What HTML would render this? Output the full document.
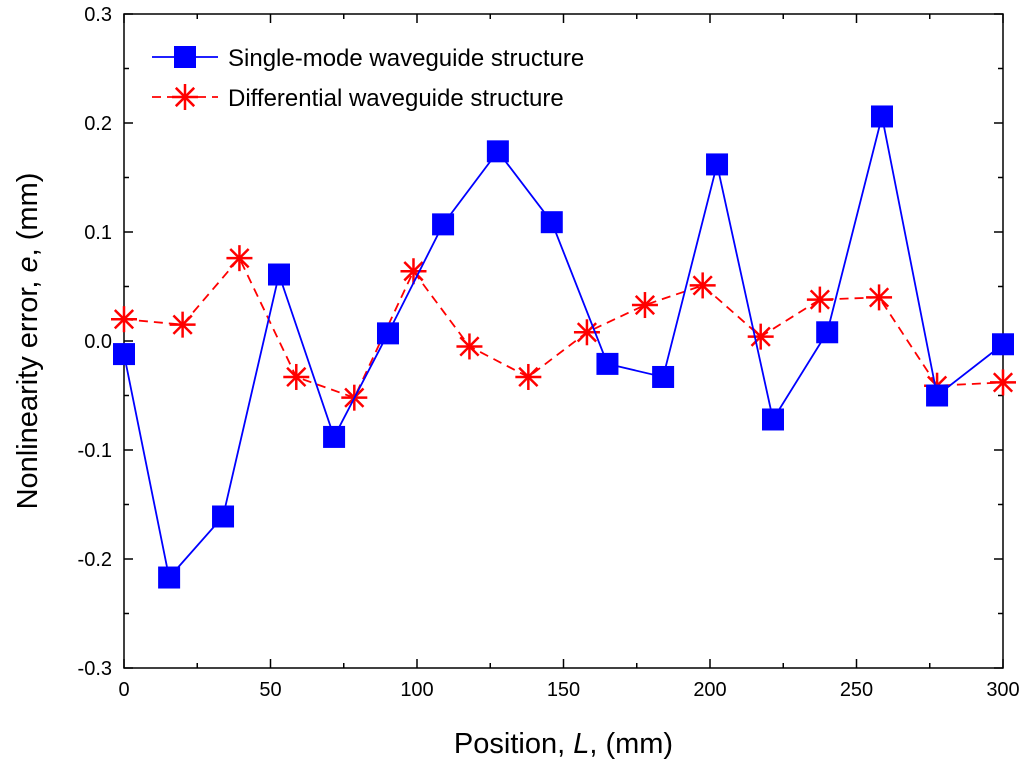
<!DOCTYPE html>
<html><head><meta charset="utf-8"><style>
body{margin:0;background:#fff;}
svg text{font-family:"Liberation Sans",Arial,sans-serif;}
</style></head><body>
<svg id="chart" width="1024" height="767" xmlns="http://www.w3.org/2000/svg">
<g id="axes"></g>
<g id="series"></g>
<g id="legend"></g>
</svg>
<script>
const xTicks=[0,50,100,150,200,250,300];
const yTicks=[-0.3,-0.2,-0.1,0.0,0.1,0.2,0.3];
const yTickLabels=["-0.3","-0.2","-0.1","0.0","0.1","0.2","0.3"];
const singleX=[0,15.4,33.8,52.9,71.7,90.1,108.9,127.6,146,165,184,202.4,221.5,240,258.7,277.5,300];
const singleY=[-0.012,-0.217,-0.161,0.061,-0.088,0.007,0.107,0.174,0.109,-0.021,-0.033,0.162,-0.072,0.008,0.206,-0.050,-0.003];
const diffX=[0,20,39.4,58.8,78.6,98.8,117.9,138,158,177.8,197.5,217.3,237.5,257.7,277.5,300];
const diffY=[0.020,0.015,0.076,-0.033,-0.052,0.064,-0.005,-0.033,0.008,0.033,0.051,0.004,0.038,0.040,-0.041,-0.038];

const L=124,R=1003,T=14,B=668;
const sx=v=>L+(v-0)/(300-0)*(R-L);
const sy=v=>B-(v+0.3)/0.6*(B-T);
const NS="http://www.w3.org/2000/svg";
function mk(tag,attrs,parent){const e=document.createElementNS(NS,tag);for(const k in attrs)e.setAttribute(k,attrs[k]);parent.appendChild(e);return e;}
const ax=document.getElementById('axes'),se=document.getElementById('series'),lg=document.getElementById('legend');

const frame=mk('rect',{x:L,y:T,width:R-L,height:B-T,fill:'none',stroke:'#000','stroke-width':1.5},ax);


xTicks.forEach(v=>{
  const x=sx(v);
  mk('line',{x1:x,y1:B,x2:x,y2:B-9,stroke:'#000','stroke-width':1.5},ax);
  mk('line',{x1:x,y1:T,x2:x,y2:T+9,stroke:'#000','stroke-width':1.5},ax);
  const t=mk('text',{x:x,y:B+28,'text-anchor':'middle','font-size':20},ax);t.textContent=v;
  
  
});
for(let v=25;v<300;v+=50){const x=sx(v);mk('line',{x1:x,y1:B,x2:x,y2:B-5,stroke:'#000','stroke-width':1.5},ax);mk('line',{x1:x,y1:T,x2:x,y2:T+5,stroke:'#000','stroke-width':1.5},ax);}
yTicks.forEach((v,i)=>{
  const y=sy(v);
  mk('line',{x1:L,y1:y,x2:L+9,y2:y,stroke:'#000','stroke-width':1.5},ax);
  mk('line',{x1:R,y1:y,x2:R-9,y2:y,stroke:'#000','stroke-width':1.5},ax);
  const t=mk('text',{x:L-12,y:y+7,'text-anchor':'end','font-size':20},ax);t.textContent=yTickLabels[i];
  
  
});
for(let v=-0.25;v<0.3;v+=0.1){const y=sy(v);mk('line',{x1:L,y1:y,x2:L+5,y2:y,stroke:'#000','stroke-width':1.5},ax);mk('line',{x1:R,y1:y,x2:R-5,y2:y,stroke:'#000','stroke-width':1.5},ax);}
const xt=mk('text',{x:(L+R)/2,y:753,'text-anchor':'middle','font-size':29},ax);
xt.innerHTML='Position, <tspan font-style="italic">L</tspan>, (mm)';


const yt=mk('text',{x:0,y:0,'text-anchor':'middle','font-size':29,transform:`translate(37,${(T+B)/2}) rotate(-90)`},ax);
yt.innerHTML='Nonlinearity error, <tspan font-style="italic">e</tspan>, (mm)';



function star(g,x,y,r){
  for(let k=0;k<4;k++){const a=k*Math.PI/4;mk('line',{x1:x-r*Math.cos(a),y1:y-r*Math.sin(a),x2:x+r*Math.cos(a),y2:y+r*Math.sin(a),stroke:'#f00','stroke-width':2.5},g);}
}
// differential (red dashed)
const pd=diffX.map((v,i)=>sx(v)+','+sy(diffY[i])).join(' ');
const rl=mk('polyline',{points:pd,fill:'none',stroke:'#f00','stroke-width':1.8,'stroke-dasharray':'9,6'},se);


diffX.forEach((v,i)=>{const g=mk('g',{},se);star(g,sx(v),sy(diffY[i]),13);});
// single-mode (blue)
const ps=singleX.map((v,i)=>sx(v)+','+sy(singleY[i])).join(' ');
const bl=mk('polyline',{points:ps,fill:'none',stroke:'#00f','stroke-width':1.8},se);


singleX.forEach((v,i)=>{const r=mk('rect',{x:sx(v)-11,y:sy(singleY[i])-11,width:22,height:22,fill:'#00f'},se);});

// legend
const g1=mk('g',{},lg);
mk('line',{x1:152,y1:57,x2:218,y2:57,stroke:'#00f','stroke-width':1.8},g1);
mk('rect',{x:174,y:46,width:22,height:22,fill:'#00f'},g1);
const t1=mk('text',{x:228,y:66,'font-size':24},g1);t1.textContent='Single-mode waveguide structure';
const g2=mk('g',{},lg);
mk('line',{x1:152,y1:97,x2:218,y2:97,stroke:'#f00','stroke-width':1.8,'stroke-dasharray':'9,6'},g2);
star(g2,185,97,13);
const t2=mk('text',{x:228,y:106,'font-size':24},g2);t2.textContent='Differential waveguide structure';
</script>
</body></html>
